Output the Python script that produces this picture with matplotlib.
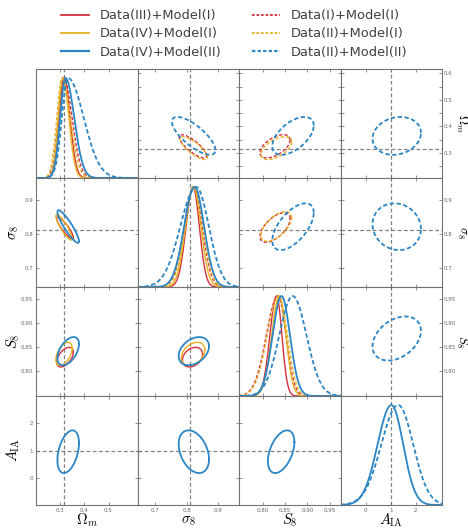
import numpy as np
import matplotlib
matplotlib.use("Agg")
import matplotlib.pyplot as plt
from matplotlib.lines import Line2D
from matplotlib.ticker import FixedLocator, NullLocator, FixedFormatter

plt.rcParams["mathtext.fontset"] = "cm"

labels = [r"$\Omega_m$", r"$\sigma_8$", r"$S_8$", r"$A_{\rm IA}$"]
col_limits = [(0.2, 0.62), (0.645, 0.965), (0.747, 0.974), (-1.0, 3.05)]
row_limits = [(0.205, 0.616), (0.645, 0.965), (0.747, 0.976), (-0.97, 2.99)]
axis_ticks = [[0.3, 0.4, 0.5], [0.7, 0.8, 0.9], [0.80, 0.85, 0.90, 0.95], [0, 1, 2]]
axis_ticklabels = [["0.3", "0.4", "0.5"], ["0.7", "0.8", "0.9"],
                   ["0.80", "0.85", "0.90", "0.95"], ["0", "1", "2"]]
om_row_ticks = [0.25, 0.3, 0.35, 0.4, 0.45, 0.5, 0.55, 0.6]
om_row_ticklabels = ["", "0.3", "", "0.4", "", "0.5", "", "0.6"]
fiducial = [0.3153, 0.8111, None, 1.0]

colors = ["#d7303c", "#e6b122", "#2a86c4"]
widths = [1.0, 1.0, 1.3]

# lower triangle (solid)
solid_names = ["Data(III)+Model(I)", "Data(IV)+Model(I)", "Data(IV)+Model(II)"]
# peak, width below peak, width above peak for Om, s8, S8, A_IA
solid_peak = [[0.316, 0.820, 0.831, None],
              [0.311, 0.821, 0.837, None],
              [0.322, 0.825, 0.842, 1.03]]
solid_lo = [[0.020, 0.022, 0.015, None],
            [0.019, 0.025, 0.017, None],
            [0.022, 0.033, 0.020, 0.55]]
solid_hi = [[0.025, 0.020, 0.012, None],
            [0.025, 0.024, 0.015, None],
            [0.036, 0.030, 0.019, 0.47]]

# upper triangle (dashed)
dashed_names = ["Data(I)+Model(I)", "Data(II)+Model(I)", "Data(II)+Model(II)"]
dashed_peak = [[0.314, 0.822, 0.834, None],
               [0.308, 0.825, 0.836, None],
               [0.332, 0.830, 0.867, 1.30]]
dashed_lo = [[0.022, 0.030, 0.026, None],
             [0.022, 0.030, 0.026, None],
             [0.025, 0.050, 0.030, 0.67]]
dashed_hi = [[0.035, 0.027, 0.018, None],
             [0.034, 0.027, 0.019, None],
             [0.065, 0.040, 0.031, 0.60]]

# correlations for pairs (Om,s8) (Om,S8) (s8,S8) (Om,A) (s8,A) (S8,A)
pairs = [(0, 1), (0, 2), (1, 2), (0, 3), (1, 3), (2, 3)]
solid_corr = [[-0.88, 0.5, 0.3, None, None, None],
              [-0.88, 0.5, 0.35, None, None, None],
              [-0.9, 0.5, 0.35, 0.4, -0.35, 0.45]]
dashed_corr = [[-0.8, 0.55, 0.6, None, None, None],
               [-0.8, 0.55, 0.6, None, None, None],
               [-0.75, 0.55, 0.6, 0.15, -0.1, 0.35]]


def moments(peak, lo, hi):
    mean = peak + np.sqrt(2 / np.pi) * (hi - lo)
    sd = np.sqrt((1 - 2 / np.pi) * (hi - lo) ** 2 + hi * lo)
    return mean, sd


def draw_1d(ax, lim, peak, lo, hi, color, lw, ls):
    x = np.linspace(lim[0], lim[1], 400)
    s = np.where(x < peak, lo, hi)
    ax.plot(x, np.exp(-0.5 * ((x - peak) / s) ** 2), color=color, lw=lw, ls=ls)


def draw_2d(ax, mx, sx, my, sy, rho, color, lw, ls):
    cov = np.array([[sx * sx, rho * sx * sy], [rho * sx * sy, sy * sy]])
    L = np.linalg.cholesky(cov)
    t = np.linspace(0, 2 * np.pi, 300)
    pts = 1.52 * L @ np.vstack([np.cos(t), np.sin(t)])
    ax.plot(mx + pts[0], my + pts[1], color=color, lw=lw, ls=ls)


fig = plt.figure(figsize=(4.68, 5.29), dpi=100)
gs = fig.add_gridspec(4, 4, left=36 / 468, right=442 / 468,
                      bottom=1 - 505 / 529, top=1 - 69 / 529,
                      wspace=0, hspace=0)

dash = (0, (2.4, 1.4))
grey = "0.5"
label_size = 10.5

for i in range(4):
    for j in range(4):
        ax = fig.add_subplot(gs[i, j])
        ax.set_xlim(col_limits[j])
        for sp in ax.spines.values():
            sp.set_color("0.45")
            sp.set_linewidth(0.8)
        ax.tick_params(direction="in", length=2.5, width=0.5, colors="0.4",
                       labelsize=4, pad=2, top=True, right=True,
                       labelbottom=False, labelleft=False)
        ax.xaxis.set_major_locator(FixedLocator(axis_ticks[j]))

        if i == j:
            ax.set_ylim(0, 1.09)
            ax.yaxis.set_major_locator(NullLocator())
            for k in range(3):
                if solid_peak[k][i] is not None:
                    draw_1d(ax, col_limits[j], solid_peak[k][i], solid_lo[k][i],
                            solid_hi[k][i], colors[k], widths[k], "-")
                if dashed_peak[k][i] is not None:
                    draw_1d(ax, col_limits[j], dashed_peak[k][i], dashed_lo[k][i],
                            dashed_hi[k][i], colors[k], widths[k], dash)
            if fiducial[j] is not None:
                ax.axvline(fiducial[j], color=grey, lw=0.9, ls=(0, (3, 2)), zorder=0)
        else:
            ax.set_ylim(row_limits[i])
            if i == 0:
                ax.yaxis.set_major_locator(FixedLocator(om_row_ticks))
                ax.yaxis.set_major_formatter(FixedFormatter(om_row_ticklabels))
            else:
                ax.yaxis.set_major_locator(FixedLocator(axis_ticks[i]))
            if i > j:
                peak, lo, hi, corr, ls = solid_peak, solid_lo, solid_hi, solid_corr, "-"
            else:
                peak, lo, hi, corr, ls = dashed_peak, dashed_lo, dashed_hi, dashed_corr, dash
            a, b = min(i, j), max(i, j)
            p = pairs.index((a, b))
            for k in range(3):
                if corr[k][p] is None:
                    continue
                mx, sx = moments(peak[k][j], lo[k][j], hi[k][j])
                my, sy = moments(peak[k][i], lo[k][i], hi[k][i])
                draw_2d(ax, mx, sx, my, sy, corr[k][p], colors[k], widths[k], ls)
            if fiducial[j] is not None:
                ax.axvline(fiducial[j], color=grey, lw=0.9, ls=(0, (3, 2)), zorder=0)
            if fiducial[i] is not None:
                ax.axhline(fiducial[i], color=grey, lw=0.9, ls=(0, (3, 2)), zorder=0)

        if i == 3:
            ax.tick_params(labelbottom=True)
            ax.xaxis.set_major_formatter(FixedFormatter(axis_ticklabels[j]))
            ax.set_xlabel(labels[j], fontsize=label_size, va="center")
            ax.xaxis.set_label_coords(0.5, -0.14)
        if j == 0 and i > 0:
            ax.tick_params(labelleft=True)
            ax.yaxis.set_major_formatter(FixedFormatter(axis_ticklabels[i]))
            ax.set_ylabel(labels[i], fontsize=label_size, va="center", ha="center")
            ax.yaxis.set_label_coords(-0.22, 0.5)
        if j == 3 and i < 3:
            ax.tick_params(axis="y", labelright=True, pad=1)
            if i > 0:
                ax.yaxis.set_major_formatter(FixedFormatter(axis_ticklabels[i]))
            ax.yaxis.set_label_position("right")
            ax.set_ylabel(labels[i], fontsize=9, rotation=270,
                          va="center", ha="center")
            ax.yaxis.set_label_coords(1.196, 0.5)

handles = []
names = []
for k in range(3):
    handles.append(Line2D([], [], color=colors[k], lw=widths[k] + 0.3))
    names.append(solid_names[k])
for k in range(3):
    handles.append(Line2D([], [], color=colors[k], lw=widths[k] + 0.3, ls=(0, (1.5, 1))))
    names.append(dashed_names[k])

leg = fig.legend(handles, names, ncol=2, loc="upper center",
                 bbox_to_anchor=(0.5, 1.005), frameon=False, fontsize=9.4,
                 handlelength=2.2, handletextpad=0.8, columnspacing=2.3,
                 labelspacing=0.4)
for t in leg.get_texts():
    t.set_color("0.25")

fig.savefig("out.png", dpi=100)
